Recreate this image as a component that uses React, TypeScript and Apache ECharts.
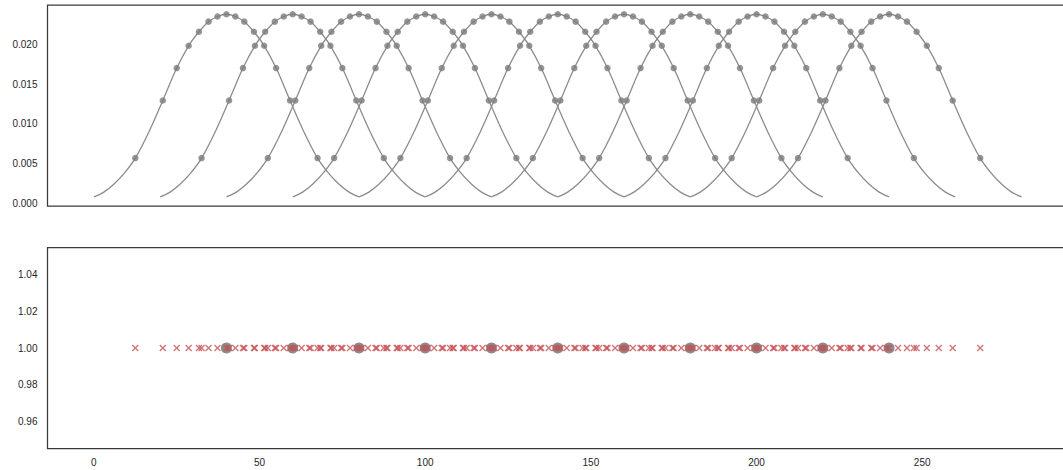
import React, { useEffect, useRef } from "react";
import * as echarts from "echarts";

// centres of the kernels (also the big grey dots in the lower panel)
const centers = [40, 60, 80, 100, 120, 140, 160, 180, 200, 220, 240];

// sample offsets around each centre and the kernel value read at them
const sampleOffsets = [-27.5, -19.2, -15, -11.4, -8.3, -5.4, -2.7, 0, 2.7, 5.4, 8.3, 11.4, 15, 19.2, 27.5];
const sampleValues = [0.0057, 0.01297, 0.01706, 0.01987, 0.02164, 0.02292, 0.02357, 0.02385, 0.02357, 0.02292, 0.02164, 0.01987, 0.01706, 0.01297, 0.0057];

// kernel curve (offset from centre, value)
const curveOffsets = [-40, -37, -34, -31, -27.5, -23.4, -19.2, -15, -11.4, -8.3, -5.4, -2.7, 0, 2.7, 5.4, 8.3, 11.4, 15, 19.2, 23.4, 27.5, 31, 34, 37, 40];
const curveValues = [0.0008, 0.0014, 0.0024, 0.0037, 0.0057, 0.009, 0.01297, 0.01706, 0.01987, 0.02164, 0.02292, 0.02357, 0.02385, 0.02357, 0.02292, 0.02164, 0.01987, 0.01706, 0.01297, 0.009, 0.0057, 0.0037, 0.0024, 0.0014, 0.0008];

const xTicks = [0, 50, 100, 150, 200, 250];
const yTicksTop = [0, 0.005, 0.01, 0.015, 0.02];
const yTicksBottom = [0.96, 0.98, 1.0, 1.02, 1.04];
const baseline = 1;

const FONT = "'Liberation Sans', Arial, sans-serif";
const TEXT = "#262626";
const RED = "#c44e52";

export default function App() {
  const ref = useRef<HTMLDivElement>(null);
  useEffect(() => {
    if (!ref.current) return;
    const chart = echarts.init(ref.current, undefined, { renderer: "svg" });

    const lineSeries = centers.map((c) => ({
      type: "line",
      xAxisIndex: 0,
      yAxisIndex: 0,
      data: curveOffsets.map((o, i) => [c + o, curveValues[i]]),
      smooth: 0.35,
      showSymbol: false,
      lineStyle: { color: "#8c8c8c", width: 1.3 },
      silent: true,
      z: 2,
    }));

    const dotData: number[][] = [];
    const xMarks: number[][] = [];
    centers.forEach((c) => {
      sampleOffsets.forEach((o, i) => {
        dotData.push([c + o, sampleValues[i]]);
        xMarks.push([c + o, baseline]);
      });
    });

    const labelStyle = { color: TEXT, fontSize: 10, fontFamily: FONT };
    const gridBase = {
      left: 47.5, width: 1020.5, height: 201, show: true,
      borderColor: "#3a3a3a", borderWidth: 1.25, backgroundColor: "transparent",
      containLabel: false, outerBoundsMode: "none",
    };

    chart.setOption({
      animation: false,
      grid: [
        { ...gridBase, top: 5 },
        { ...gridBase, top: 247.5 },
      ],
      xAxis: [
        {
          type: "value", gridIndex: 0, min: -14, max: 294,
          axisLine: { show: false }, axisTick: { show: false }, splitLine: { show: false },
          axisLabel: { show: false },
        },
        {
          type: "value", gridIndex: 1, min: -14, max: 294,
          axisLine: { show: false }, axisTick: { show: false }, splitLine: { show: false },
          axisLabel: { ...labelStyle, margin: 9, customValues: xTicks, formatter: (v: number) => String(v) },
        },
      ],
      yAxis: [
        {
          type: "value", gridIndex: 0, min: -0.00035, max: 0.02502,
          axisLine: { show: false }, axisTick: { show: false }, splitLine: { show: false },
          axisLabel: { ...labelStyle, margin: 10, customValues: yTicksTop, formatter: (v: number) => v.toFixed(3) },
        },
        {
          type: "value", gridIndex: 1, min: 0.945, max: 1.055,
          axisLine: { show: false }, axisTick: { show: false }, splitLine: { show: false },
          axisLabel: { ...labelStyle, margin: 10, customValues: yTicksBottom, formatter: (v: number) => v.toFixed(2) },
        },
      ],
      series: [
        ...lineSeries,
        {
          type: "scatter", xAxisIndex: 0, yAxisIndex: 0, data: dotData,
          symbol: "circle", symbolSize: 6.5,
          itemStyle: { color: "#7a7a7a" }, silent: true, z: 3,
        },
        {
          type: "scatter", xAxisIndex: 1, yAxisIndex: 1,
          data: centers.map((c) => [c, baseline]),
          symbol: "circle", symbolSize: 11,
          itemStyle: { color: "#6f6f6f" }, silent: true, z: 2,
        },
        {
          type: "scatter", xAxisIndex: 1, yAxisIndex: 1, data: xMarks,
          symbol: "path://M0,0L10,10M10,0L0,10", symbolSize: 6,
          itemStyle: { color: "transparent", borderColor: RED, borderWidth: 1.3 },
          silent: true, z: 3,
        },
      ],
    });
    return () => chart.dispose();
  }, []);
  return (
    <div
      ref={ref}
      style={{ position: "fixed", left: 0, top: 0, width: 1063, height: 470, background: "#fff" }}
    />
  );
}
